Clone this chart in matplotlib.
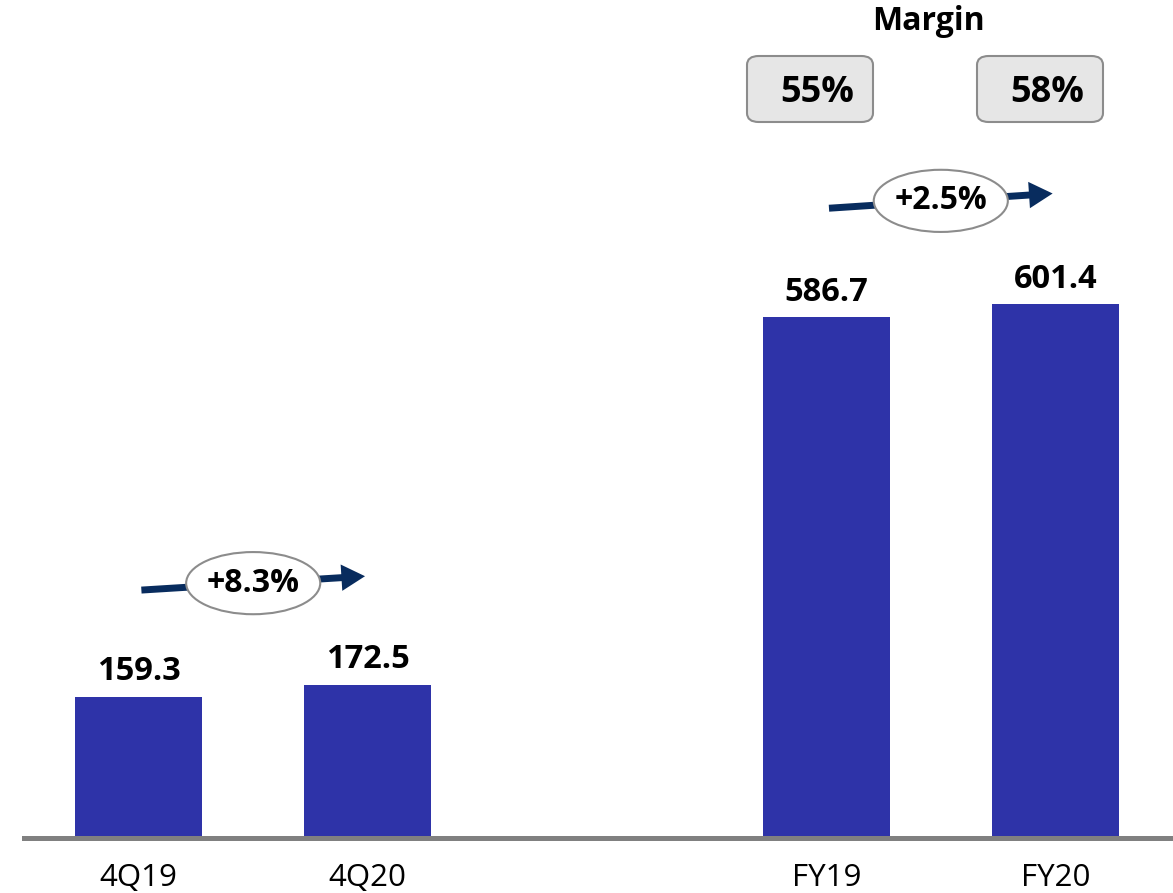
import matplotlib
matplotlib.use("Agg")
import matplotlib.pyplot as plt
from matplotlib.patches import Ellipse, FancyArrowPatch, FancyBboxPatch, ArrowStyle

# ── data ──────────────────────────────────────────────────────────────
categories = ["4Q19", "4Q20", "FY19", "FY20"]
values = [159.3, 172.5, 586.7, 601.4]
positions = [0, 1, 3, 4]
growth_labels = ["+8.3%", "+2.5%"]
margin_labels = ["55%", "58%"]

BAR_COLOR = "#2e33a8"
ARROW_COLOR = "#082c5e"
FONT = "Open Sans"

plt.rcParams["font.family"] = [FONT, "DejaVu Sans"]

fig = plt.figure(figsize=(11.73, 8.93), dpi=100)
W, H = 1173, 893
ax = fig.add_axes([24 / W, 1 - 838 / H, 1146 / W, 838 / H])

ax.bar(positions, values, width=0.555, color=BAR_COLOR, zorder=1)
ax.set_xlim(-0.5, 4.5)
ax.set_ylim(0, 838 / 0.888)

for side in ["top", "right", "left"]:
    ax.spines[side].set_visible(False)
ax.spines["bottom"].set_color("#808080")
ax.spines["bottom"].set_linewidth(3.6)
ax.spines["bottom"].set_zorder(3)

ax.set_yticks([])
ax.set_xticks(positions)
ax.set_xticklabels(categories, fontsize=22.5)
ax.tick_params(axis="x", length=0, pad=18)

# value labels
for x, v in zip(positions, values):
    ax.annotate(f"{v:.1f}", (x, v), xytext=(0, 6), textcoords="offset points",
                ha="center", va="bottom", fontsize=23.5, fontweight="bold")

# growth arrows with ellipse badges
for (x0, x1), lbl, (y0, y1) in zip([(0, 1), (3, 4)], growth_labels,
                                     [(279, 295), (709, 726)]):
    arr = FancyArrowPatch((x0, y0), (x1, y1),
                          arrowstyle=ArrowStyle.Simple(head_length=1.7, head_width=1.9, tail_width=0.5),
                          mutation_scale=10, color=ARROW_COLOR, lw=0, zorder=4)
    ax.add_patch(arr)
    xm, ym = (x0 + x1) / 2, (y0 + y1) / 2
    ax.add_patch(Ellipse((xm, ym), 0.585, 70, facecolor="white",
                         edgecolor="#8c8c8c", lw=1.5, zorder=5))
    ax.text(xm, ym, lbl, ha="center", va="center", fontsize=23,
            fontweight="bold", zorder=6)

# margin boxes
fig.text(928 / W, 1 - 22 / H, "Margin", ha="center", va="center",
         fontsize=23, fontweight="bold")
for cx, lbl in zip([810, 1040], margin_labels):
    box = FancyBboxPatch(((cx - 63) / W, 1 - 122 / H), 126 / W, 66 / H,
                         boxstyle="round,pad=0,rounding_size=0.01",
                         transform=fig.transFigure, facecolor="#e6e6e6",
                         edgecolor="#8c8c8c", lw=1.5)
    fig.patches.append(box)
    fig.text((cx + 7) / W, 1 - 93 / H, lbl, ha="center", va="center",
             fontsize=26, fontweight="bold")

fig.savefig("out.png", dpi=100)
